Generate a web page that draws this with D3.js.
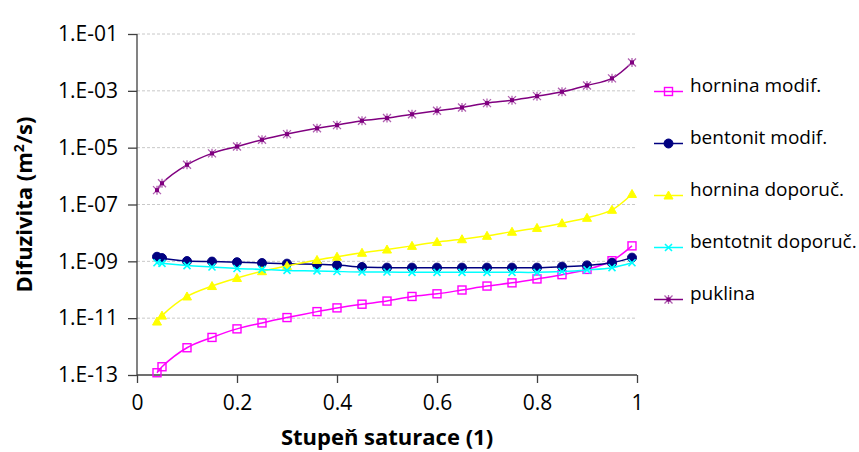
<!DOCTYPE html>
<html>
<head>
<meta charset="utf-8">
<script src="https://cdn.jsdelivr.net/npm/d3@7"></script>
<style>
  html, body { margin: 0; padding: 0; background: #fff; }
  svg { display: block; }
  text { font-family: "Open Sans", "Noto Sans", sans-serif; fill: #000; }
</style>
</head>
<body>
<svg id="chart" width="859" height="452"></svg>
<script>
// ---------- data ----------
const saturation = [0.04, 0.05, 0.1, 0.15, 0.2, 0.25, 0.3, 0.36, 0.4, 0.45, 0.5,
                    0.55, 0.6, 0.65, 0.7, 0.75, 0.8, 0.85, 0.9, 0.95, 0.99];

const horninaModif = [1.2e-13, 1.95e-13, 9.1e-13, 2.1e-12, 4.2e-12, 6.8e-12, 1.05e-11,
                      1.7e-11, 2.3e-11, 3.1e-11, 4.0e-11, 5.8e-11, 7.2e-11, 9.8e-11,
                      1.35e-10, 1.75e-10, 2.4e-10, 3.4e-10, 5.2e-10, 1.05e-9, 3.5e-9];

const bentonitModif = [1.45e-9, 1.3e-9, 1.02e-9, 9.8e-10, 9.3e-10, 8.7e-10, 8.3e-10,
                       7.9e-10, 7.4e-10, 6.3e-10, 6.0e-10, 6.0e-10, 6.0e-10, 6.0e-10,
                       6.0e-10, 6.0e-10, 6.0e-10, 6.5e-10, 7.2e-10, 8.9e-10, 1.35e-9];

const horninaDoporuc = [7.6e-12, 1.23e-11, 5.8e-11, 1.35e-10, 2.6e-10, 4.5e-10, 6.9e-10,
                        1.12e-9, 1.45e-9, 2.0e-9, 2.6e-9, 3.5e-9, 4.8e-9, 6.0e-9,
                        7.9e-9, 1.1e-8, 1.5e-8, 2.2e-8, 3.4e-8, 6.5e-8, 2.35e-7];

const bentotnitDoporuc = [8.9e-10, 8.5e-10, 7.1e-10, 6.3e-10, 5.6e-10, 5.2e-10, 4.8e-10,
                          4.6e-10, 4.4e-10, 4.2e-10, 4.2e-10, 4.1e-10, 4.1e-10, 4.1e-10,
                          4.1e-10, 4.1e-10, 4.1e-10, 4.4e-10, 5.0e-10, 6.0e-10, 8.9e-10];

const puklina = [3.2e-7, 5.6e-7, 2.5e-6, 6.3e-6, 1.1e-5, 1.9e-5, 3.0e-5, 4.8e-5, 6.2e-5,
                 8.9e-5, 1.1e-4, 1.5e-4, 2.0e-4, 2.6e-4, 3.7e-4, 4.7e-4, 6.5e-4, 9.3e-4,
                 1.55e-3, 2.75e-3, 1.0e-2];

const seriesNames = ["hornina modif.", "bentonit modif.", "hornina doporuč.", "bentotnit doporuč.", "puklina"];
const seriesColors = ["#FF00FF", "#000080", "#FFFF00", "#00FFFF", "#800080"];
const seriesMarkers = ["square", "circle", "triangle", "cross", "star"];
const seriesValues = [horninaModif, bentonitModif, horninaDoporuc, bentotnitDoporuc, puklina];

const xTickValues = [0, 0.2, 0.4, 0.6, 0.8, 1];
const xTickLabels = ["0", "0.2", "0.4", "0.6", "0.8", "1"];
const yTickValues = [1e-13, 1e-11, 1e-9, 1e-7, 1e-5, 1e-3, 1e-1];
const yTickLabels = ["1.E-13", "1.E-11", "1.E-09", "1.E-07", "1.E-05", "1.E-03", "1.E-01"];

const xTitle = "Stupeň saturace (1)";

// ---------- layout ----------
const svg = d3.select("#chart");
const plot = { left: 137, right: 637, top: 34, bottom: 375 };

const x = d3.scaleLinear().domain([0, 1]).range([plot.left, plot.right]);
const y = d3.scaleLog().domain([1e-13, 1e-1]).range([plot.bottom, plot.top]);

// gridlines
svg.append("g")
  .selectAll("line")
  .data(yTickValues.filter(v => v !== 1e-13))
  .join("line")
  .attr("x1", plot.left).attr("x2", plot.right)
  .attr("y1", d => y(d)).attr("y2", d => y(d))
  .attr("stroke", "#c8c8c8")
  .attr("stroke-width", 1)
  .attr("stroke-dasharray", "3,2");

// y axis
const yAxis = d3.axisLeft(y)
  .tickValues(yTickValues)
  .tickFormat((d, i) => yTickLabels[i])
  .tickSize(9)
  .tickPadding(10);
const gy = svg.append("g").attr("transform", `translate(${plot.left},0)`).call(yAxis);
gy.select(".domain").attr("stroke", "#404040").attr("stroke-width", 1.3).attr("d", `M0,${plot.top}V${plot.bottom}`);
gy.selectAll(".tick line").attr("stroke", "#404040").attr("stroke-width", 1.3);
gy.selectAll(".tick text").attr("font-size", 21).attr("font-family", "Open Sans").attr("fill", "#000");

// x axis
const xAxis = d3.axisBottom(x)
  .tickValues(xTickValues)
  .tickFormat((d, i) => xTickLabels[i])
  .tickSize(8)
  .tickPadding(12);
const gx = svg.append("g").attr("transform", `translate(0,${plot.bottom})`).call(xAxis);
gx.select(".domain").attr("stroke", "#404040").attr("stroke-width", 1.3).attr("d", `M${plot.left},0H${plot.right}`);
gx.selectAll(".tick line").attr("stroke", "#404040").attr("stroke-width", 1.3);
gx.selectAll(".tick text").attr("font-size", 21).attr("font-family", "Open Sans").attr("fill", "#000");

// axis titles
svg.append("text")
  .attr("x", (plot.left + plot.right) / 2)
  .attr("y", 445)
  .attr("text-anchor", "middle")
  .attr("font-size", 22)
  .attr("font-weight", "bold")
  .text(xTitle);

const yt = svg.append("text")
  .attr("transform", `translate(32,${(plot.top + plot.bottom) / 2}) rotate(-90)`)
  .attr("text-anchor", "middle")
  .attr("font-size", 22)
  .attr("font-weight", "bold");
yt.append("tspan").text("Difuzivita (m");
yt.append("tspan").attr("font-size", 14).attr("dy", -8).text("2");
yt.append("tspan").attr("dy", 8).text("/s)");

// ---------- markers ----------
function drawMarker(g, type, color) {
  if (type === "square") {
    g.append("rect").attr("x", -4).attr("y", -4).attr("width", 8).attr("height", 8)
      .attr("fill", "none").attr("stroke", color).attr("stroke-width", 1.4);
  } else if (type === "circle") {
    g.append("circle").attr("r", 4.5).attr("fill", color).attr("stroke", color).attr("stroke-width", 1);
  } else if (type === "triangle") {
    g.append("path").attr("d", "M0,-4.5L4.5,3.5L-4.5,3.5Z").attr("fill", color).attr("stroke", color).attr("stroke-width", 1);
  } else if (type === "cross") {
    g.append("path").attr("d", "M-3.5,-3.5L3.5,3.5M-3.5,3.5L3.5,-3.5").attr("stroke", color).attr("stroke-width", 1.6).attr("fill", "none");
  } else if (type === "star") {
    g.append("path").attr("d", "M-4,-4L4,4M-4,4L4,-4M0,-4.5L0,4.5").attr("stroke", "#b060b0").attr("stroke-width", 1.3).attr("fill", "none");
    g.append("rect").attr("x", -2).attr("y", -2).attr("width", 4).attr("height", 4).attr("fill", color);
  }
}

const line = d3.line()
  .x(d => x(d[0]))
  .y(d => y(d[1]))
  .curve(d3.curveCatmullRom.alpha(0.5));

seriesValues.forEach((vals, si) => {
  const pts = saturation.map((s, i) => [s, vals[i]]);
  const g = svg.append("g");
  g.append("path")
    .attr("d", line(pts))
    .attr("fill", "none")
    .attr("stroke", seriesColors[si])
    .attr("stroke-width", 1.5);
  pts.forEach(p => {
    const mg = g.append("g").attr("transform", `translate(${x(p[0])},${y(p[1])})`);
    drawMarker(mg, seriesMarkers[si], seriesColors[si]);
  });
});

// ---------- legend ----------
const legend = svg.append("g");
seriesNames.forEach((name, i) => {
  const ly = 91.5 + i * 52;
  const lg = legend.append("g").attr("transform", `translate(0,${ly})`);
  lg.append("line").attr("x1", 654).attr("x2", 683).attr("y1", 0).attr("y2", 0)
    .attr("stroke", seriesColors[i]).attr("stroke-width", 1.5);
  const mg = lg.append("g").attr("transform", "translate(668.5,0)");
  drawMarker(mg, seriesMarkers[i], seriesColors[i]);
  lg.append("text").attr("x", 690).attr("y", 0)
    .attr("font-size", 19).text(name);
});
</script>
</body>
</html>
